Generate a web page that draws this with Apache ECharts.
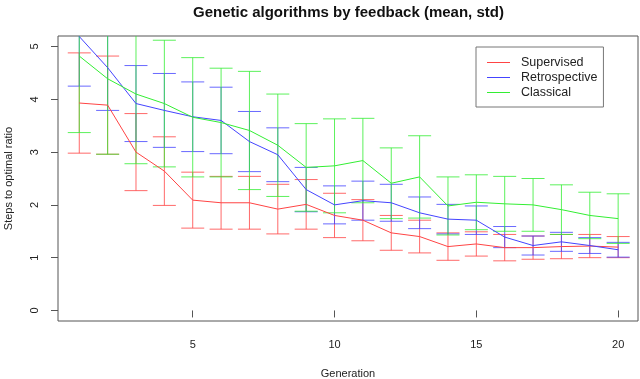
<!DOCTYPE html>
<html>
<head>
<meta charset="utf-8">
<script src="https://cdn.jsdelivr.net/npm/echarts@6/dist/echarts.min.js"></script>
<style>
html, body { margin: 0; padding: 0; background: #fff; }
#chart { width: 640px; height: 379px; }
</style>
</head>
<body>
<div id="chart"></div>
<script>
// generations on the x axis
var generations = [1, 2, 3, 4, 5, 6, 7, 8, 9, 10, 11, 12, 13, 14, 15, 16, 17, 18, 19, 20];

// mean and std per generation
var supervisedMean = [3.93, 3.89, 3.00, 2.64, 2.09, 2.04, 2.04, 1.92, 2.01, 1.80, 1.71, 1.47, 1.40, 1.21, 1.26, 1.19, 1.19, 1.21, 1.22, 1.20];
var supervisedSd   = [0.95, 0.93, 0.73, 0.65, 0.53, 0.50, 0.50, 0.47, 0.47, 0.42, 0.39, 0.33, 0.31, 0.26, 0.23, 0.25, 0.22, 0.23, 0.22, 0.20];
var retroMean      = [5.19, 4.60, 3.92, 3.79, 3.67, 3.60, 3.20, 2.95, 2.29, 2.00, 2.08, 2.04, 1.85, 1.73, 1.71, 1.39, 1.23, 1.30, 1.23, 1.15];
var retroSd        = [0.94, 0.81, 0.72, 0.70, 0.66, 0.63, 0.57, 0.51, 0.42, 0.36, 0.37, 0.35, 0.30, 0.28, 0.27, 0.20, 0.18, 0.18, 0.15, 0.14];
var classicalMean  = [4.82, 4.39, 4.10, 3.92, 3.66, 3.56, 3.41, 3.13, 2.71, 2.74, 2.84, 2.41, 2.53, 1.98, 2.05, 2.02, 2.00, 1.91, 1.80, 1.74];
var classicalSd    = [1.45, 1.43, 1.32, 1.20, 1.13, 1.03, 1.12, 0.97, 0.83, 0.89, 0.80, 0.67, 0.78, 0.55, 0.52, 0.52, 0.50, 0.47, 0.44, 0.47];

var xTicks = [5, 10, 15, 20];
var yTicks = [0, 1, 2, 3, 4, 5];

var colors = {
  sup: '#ff4444',
  retro: '#4444ff',
  cla: '#33ee33'
};

function meanPoints(mean) {
  var out = [];
  for (var i = 0; i < generations.length; i++) {
    out.push([generations[i], mean[i]]);
  }
  return out;
}

function barPoints(mean, sd) {
  var out = [];
  for (var i = 0; i < generations.length; i++) {
    out.push([generations[i], mean[i] - sd[i], mean[i] + sd[i]]);
  }
  return out;
}

// whiskers: vertical line plus a cap at each end
function errorBars(color) {
  return function (params, api) {
    var x = api.value(0);
    var lo = api.coord([x, api.value(1)]);
    var hi = api.coord([x, api.value(2)]);
    var half = 11.5;
    var style = { stroke: color, lineWidth: 1, opacity: 0.8 };
    return {
      type: 'group',
      children: [
        { type: 'line', shape: { x1: lo[0], y1: lo[1], x2: hi[0], y2: hi[1] }, style: style },
        { type: 'line', shape: { x1: lo[0] - half, y1: lo[1], x2: lo[0] + half, y2: lo[1] }, style: style },
        { type: 'line', shape: { x1: hi[0] - half, y1: hi[1], x2: hi[0] + half, y2: hi[1] }, style: style }
      ]
    };
  };
}

function barSeries(name, mean, sd, color) {
  return {
    name: name,
    type: 'custom',
    renderItem: errorBars(color),
    clip: true,
    silent: true,
    encode: { x: 0, y: [1, 2] },
    data: barPoints(mean, sd),
    z: 1
  };
}

function lineSeries(name, mean, color) {
  return {
    name: name,
    type: 'line',
    symbol: 'none',
    color: color,
    lineStyle: { width: 1, color: color },
    data: meanPoints(mean),
    z: 2
  };
}

var chart = echarts.init(document.getElementById('chart'));
chart.setOption({
  animation: false,
  textStyle: { fontFamily: 'Liberation Sans, Arial, sans-serif', color: '#222' },
  title: {
    text: 'Genetic algorithms by feedback (mean, std)',
    left: 188,
    top: 0,
    textStyle: { fontSize: 15, fontWeight: 'bold', color: '#111' }
  },
  legend: {
    orient: 'vertical',
    left: 476,
    top: 47,
    padding: [9, 6, 8, 11],
    borderColor: '#777',
    borderWidth: 1,
    itemWidth: 23,
    itemHeight: 1,
    itemGap: 2,
    icon: 'rect',
    textStyle: { fontSize: 12.5, color: '#222', padding: [0, 0, 0, 6], lineHeight: 12 },
    data: ['Supervised', 'Retrospective', 'Classical']
  },
  grid: {
    left: 58,
    right: 2,
    top: 36,
    bottom: 58,
    outerBoundsMode: 'none',
    containLabel: false,
    show: true,
    borderColor: '#555',
    borderWidth: 1
  },
  xAxis: {
    type: 'value',
    min: 0.25,
    max: 20.7,
    name: 'Generation',
    nameLocation: 'middle',
    nameGap: 47,
    nameTextStyle: { fontSize: 11, color: '#222' },
    axisLine: { show: false },
    splitLine: { show: false },
    axisTick: { show: true, length: 7, customValues: xTicks, lineStyle: { color: '#555' } },
    axisLabel: { customValues: xTicks, margin: 18, fontSize: 11, color: '#222' }
  },
  yAxis: {
    type: 'value',
    min: -0.2,
    max: 5.2,
    name: 'Steps to optimal ratio',
    nameLocation: 'middle',
    nameGap: 44,
    nameTextStyle: { fontSize: 11, color: '#222' },
    axisLine: { show: false },
    splitLine: { show: false },
    axisTick: { show: true, length: 7, customValues: yTicks, lineStyle: { color: '#555' } },
    axisLabel: { customValues: yTicks, rotate: 90, margin: 18, fontSize: 11, color: '#222' }
  },
  series: [
    barSeries('Supervised sd', supervisedMean, supervisedSd, colors.sup),
    barSeries('Retrospective sd', retroMean, retroSd, colors.retro),
    barSeries('Classical sd', classicalMean, classicalSd, colors.cla),
    lineSeries('Supervised', supervisedMean, colors.sup),
    lineSeries('Retrospective', retroMean, colors.retro),
    lineSeries('Classical', classicalMean, colors.cla)
  ]
});
</script>
</body>
</html>
